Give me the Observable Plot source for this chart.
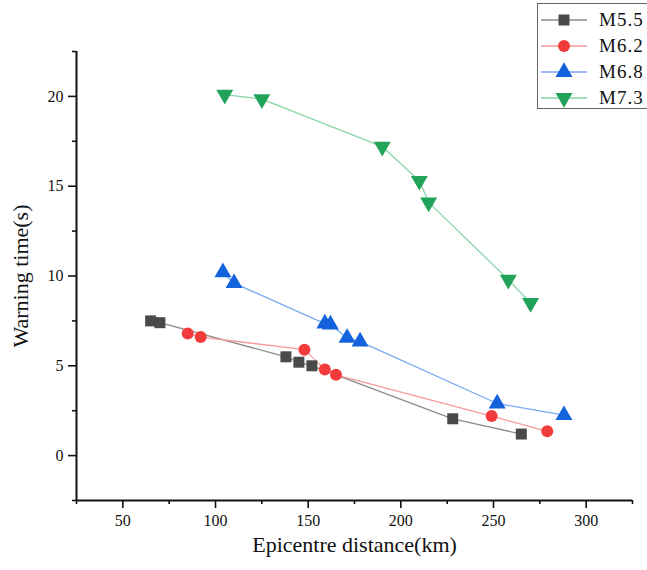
<!DOCTYPE html>
<html>
<head>
<meta charset="utf-8">
<script src="https://cdn.jsdelivr.net/npm/d3@7"></script>
<script src="https://cdn.jsdelivr.net/npm/@observablehq/plot@0.6"></script>
<style>
  html, body { margin: 0; padding: 0; background: #fff; }
  #wrap { position: relative; width: 647px; height: 570px; overflow: hidden; }
  #legend { position: absolute; left: 537px; top: 3px; width: 130px; height: 106px;
            border: 1px solid #666; background: #fff; box-sizing: border-box; }
  .row { position: absolute; left: 0; height: 26px; display: flex; align-items: center; }
  .row span { font-family: "Liberation Serif", serif; font-size: 19px; letter-spacing: 1px; color: #111; margin-left: 6px; }
</style>
</head>
<body>
<div id="wrap"><div id="chart"></div><div id="legend"></div></div>
<script>
const series = ["M5.5", "M6.2", "M6.8", "M7.3"];
const distM55 = [65, 70, 138, 145, 152, 228, 265];
const timeM55 = [7.5, 7.4, 5.5, 5.2, 5.0, 2.05, 1.2];
const distM62 = [85, 92, 148, 159, 165, 249, 279];
const timeM62 = [6.8, 6.6, 5.9, 4.8, 4.5, 2.2, 1.35];
const distM68 = [104, 110, 159, 162, 171, 178, 252, 288];
const timeM68 = [10.2, 9.6, 7.35, 7.3, 6.55, 6.35, 2.9, 2.25];
const distM73 = [105, 125, 190, 210, 215, 258, 270];
const timeM73 = [20.1, 19.85, 17.2, 15.3, 14.1, 9.8, 8.5];
const xTicks = [50, 100, 150, 200, 250, 300];
const xMinor = [25, 75, 125, 175, 225, 275, 325];
const yTicks = [0, 5, 10, 15, 20];
const yMinor = [-2.5, 2.5, 7.5, 12.5, 17.5, 22.5];

const styles = {
  "M5.5": {line: "#8c8c8c", fill: "#4a4a4a", symbol: "square", r: 6.2, rotate: 0},
  "M6.2": {line: "#f79a9a", fill: "#f23c3c", symbol: "circle", r: 6, rotate: 0},
  "M6.8": {line: "#7aaaf0", fill: "#1463dc", symbol: "triangle", r: 6.3, rotate: 0},
  "M7.3": {line: "#86d6a6", fill: "#22a35a", symbol: "triangle", r: 6.3, rotate: 180}
};
const raw = {"M5.5": [distM55, timeM55], "M6.2": [distM62, timeM62], "M6.8": [distM68, timeM68], "M7.3": [distM73, timeM73]};
const data = series.map(s => ({s, pts: raw[s][0].map((d, i) => ({dist: d, time: raw[s][1][i], s}))}));

const marks = [];
for (const {s, pts} of data) {
  const st = styles[s];
  marks.push(Plot.line(pts, {x: "dist", y: "time", stroke: st.line, strokeWidth: 1.3}));
}
for (const {s, pts} of data) {
  const st = styles[s];
  marks.push(Plot.dot(pts, {x: "dist", y: "time", symbol: () => st.symbol, fill: st.fill, stroke: "none", r: st.r, rotate: st.rotate}));
}

const serif = "Liberation Serif, serif";
const chart = Plot.plot({
  width: 647,
  height: 570,
  marginLeft: 76,
  marginRight: 15,
  marginTop: 51,
  marginBottom: 70,
  style: {fontFamily: serif, fontSize: "16px", color: "#111", background: "#fff"},
  x: {domain: [25, 325]},
  y: {domain: [-2.5, 22.5]},
  symbol: {type: "identity"},
  marks: [
    Plot.axisX(xTicks, {tickSize: 8, tickPadding: 6, strokeWidth: 1.6, fontSize: 16, label: null}),
    Plot.axisX(xMinor, {tickSize: 4, strokeWidth: 1.6, tickFormat: () => "", label: null}),
    Plot.axisY(yTicks, {tickSize: 8, tickPadding: 5, strokeWidth: 1.6, fontSize: 16, label: null}),
    Plot.axisY(yMinor, {tickSize: 4, strokeWidth: 1.6, tickFormat: () => "", label: null}),
    Plot.ruleY([-2.5], {x1: 25, x2: 325, stroke: "#111", strokeWidth: 2}),
    Plot.ruleX([25], {y1: -2.5, y2: 22.5, stroke: "#111", strokeWidth: 2}),
    ...marks,
    Plot.text(["Epicentre distance(km)"], {frameAnchor: "bottom", dy: 51, x: 175, text: d => d, fontSize: 22, fontFamily: serif, fill: "#111"}),
    Plot.text(["Warning time(s)"], {frameAnchor: "left", textAnchor: "middle", dx: -56, y: 10, text: d => d, rotate: -90, fontSize: 22, fontFamily: serif, fill: "#111"})
  ]
});
document.getElementById("chart").appendChild(chart);

// legend
const legend = document.getElementById("legend");
series.forEach((s, i) => {
  const st = styles[s];
  const row = document.createElement("div");
  row.className = "row";
  row.style.top = (3 + i * 26) + "px";
  const sym = st.symbol === "square" ? d3.symbolSquare : st.symbol === "circle" ? d3.symbolCircle : d3.symbolTriangle;
  const path = d3.symbol(sym, Math.PI * st.r * st.r)();
  row.innerHTML = `<svg width="52" height="26" style="margin-left:3px"><line x1="0" x2="46" y1="13" y2="13" stroke="${st.line}" stroke-width="1.3"/><path d="${path}" fill="${st.fill}" transform="translate(23,13) rotate(${st.rotate})"/></svg><span>${s}</span>`;
  legend.appendChild(row);
});
</script>
</body>
</html>
